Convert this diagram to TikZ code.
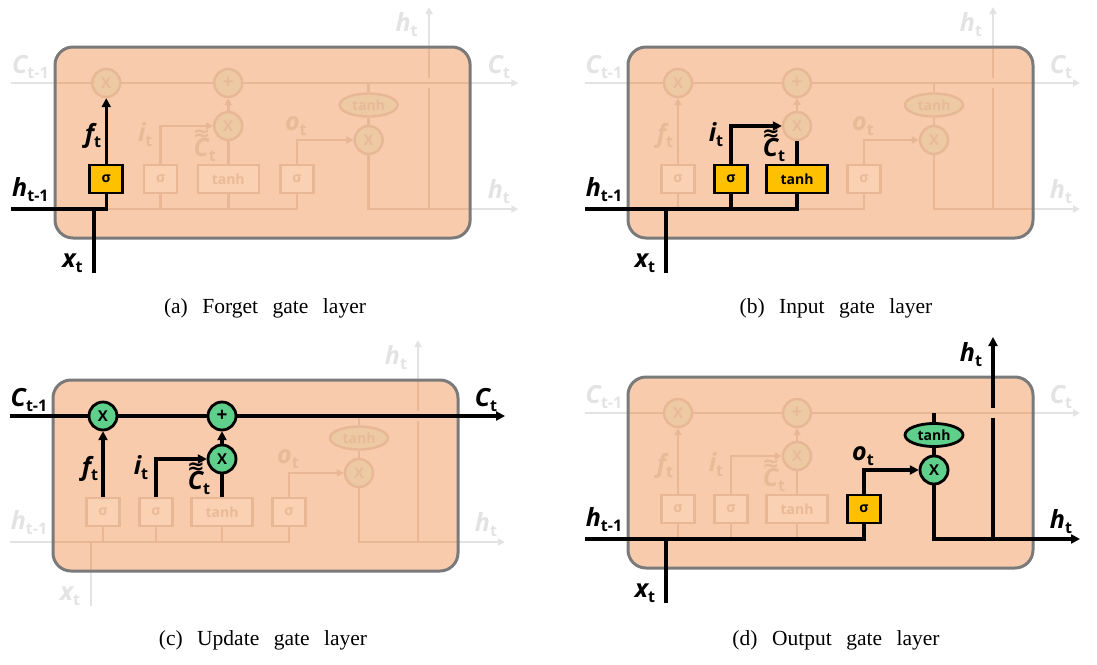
\documentclass[tikz,border=0pt]{standalone}
\usepackage{fontspec}
\setmainfont{Liberation Serif}
\newfontfamily\lblfont{Open Sans}
\newfontfamily\tildefont{DejaVu Sans}
\newfontfamily\capfont[WordSpace=2.7]{Liberation Serif}
\usetikzlibrary{arrows.meta,shapes.geometric}

\definecolor{cellfill}{HTML}{F8CBAD}
\definecolor{cellrim}{HTML}{7A7A7A}
\definecolor{gatefill}{HTML}{FFC000}
\definecolor{opfill}{HTML}{5FCF8C}
% muted tones for the parts of the cell that are not in focus
\definecolor{inline}{HTML}{E8B795}
\definecolor{incirc}{HTML}{EDC9A4}
\definecolor{ingate}{HTML}{FAD1B3}
\definecolor{intext}{HTML}{E8BA98}
\definecolor{outline}{HTML}{E3E3E3}

\newcommand\bigsym{\lblfont\bfseries\itshape\fontsize{25}{27}\selectfont}
\newcommand\subsym{\lblfont\bfseries\fontsize{16}{18}\selectfont}
\newcommand\lstmvar[2]{{\bigsym #1}{\subsym\raisebox{-5pt}{#2}}}
\newcommand\wavy{\tildefont\bfseries\fontsize{21}{21}\selectfont ≈}

\newcommand\insidetones{\colorlet{fadeline}{inline}\colorlet{fadecirc}{incirc}\colorlet{fadegate}{ingate}\colorlet{fadetext}{intext}}
\newcommand\outsidetones{\colorlet{fadeline}{outline}\colorlet{fadecirc}{outline}\colorlet{fadegate}{outline}\colorlet{fadetext}{outline}}

\tikzset{
  x=1pt, y=-1pt,
  fl/.style={draw=fadeline, line width=2.6pt},
  fla/.style={fl, -{Triangle[length=7pt,width=7pt]}},
  bl/.style={draw=black, line width=3.2pt},
  bla/.style={bl, -{Triangle[length=9pt,width=9pt]}},
  opnode/.style={circle, minimum size=28pt, inner sep=0pt, font=\lblfont\bfseries\fontsize{15}{15}\selectfont},
  fop/.style={opnode, draw=fadeline, line width=2.4pt, fill=fadecirc, text=fadetext},
  bop/.style={opnode, draw=black, line width=2.8pt, fill=opfill, text=black},
  thnode/.style={ellipse, minimum width=58pt, minimum height=23pt, inner sep=0pt, font=\lblfont\bfseries\fontsize{14}{14}\selectfont},
  fth/.style={thnode, draw=fadeline, line width=2.4pt, fill=fadecirc, text=fadetext},
  bth/.style={thnode, draw=black, line width=2.8pt, fill=opfill, text=black},
  gatenode/.style={rectangle, minimum height=28pt, inner sep=0pt, font=\lblfont\bfseries\fontsize{14}{14}\selectfont},
  fgate/.style={gatenode, draw=fadeline, line width=2.4pt, fill=fadegate, text=fadetext},
  bgate/.style={gatenode, draw=black, line width=2.8pt, fill=gatefill, text=black},
  flabel/.style={text=fadetext, inner sep=0pt},
  blabel/.style={text=black, inner sep=0pt},
  cellbox/.style={draw=cellrim, line width=3pt, fill=cellfill, rounded corners=18pt},
  caption/.style={font=\capfont\fontsize{21.5}{24}\selectfont, inner sep=0pt},
}

% the whole LSTM cell in muted colours; #1 is the panel prefix
\newcommand\lstmfaded[1]{%
  \node[fop] (#1-xf) at (50,36) {X};
  \node[fop, font=\lblfont\bfseries\fontsize{19}{19}\selectfont] (#1-plus) at (169,36) {+};
  \node[fop] (#1-xi) at (169,79) {X};
  \node[fth] (#1-th) at (306,58) {tanh};
  \node[fop] (#1-xo) at (306,93) {X};
  \node[fgate, minimum width=33pt] (#1-sf) at (50,132) {σ};
  \node[fgate, minimum width=33pt] (#1-si) at (103,132) {σ};
  \node[fgate, minimum width=61pt] (#1-tb) at (169,132) {tanh};
  \node[fgate, minimum width=33pt] (#1-so) at (236,132) {σ};
  \coordinate (#1-cin) at (-43,36);
  \coordinate (#1-cout) at (452,36);
  \coordinate (#1-tj) at (306,36);
  \coordinate (#1-hin) at (-43,162);
  \coordinate (#1-jx) at (38,162);
  \coordinate (#1-xin) at (38,226);
  \coordinate (#1-jf) at (50,162);
  \coordinate (#1-ji) at (103,162);
  \coordinate (#1-jt) at (169,162);
  \coordinate (#1-jo) at (236,162);
  \coordinate (#1-ib) at (103,79);
  \coordinate (#1-ob) at (236,93);
  \coordinate (#1-oc) at (306,162);
  \coordinate (#1-hj) at (365,162);
  \coordinate (#1-hout) at (452,162);
  \coordinate (#1-gb) at (365,41);
  \coordinate (#1-gt) at (365,31);
  \coordinate (#1-htop) at (365,-40);
  \draw[fla] (#1-cin) -- (#1-xf) -- (#1-plus) -- (#1-cout);
  \draw[fl] (#1-hin) -- (#1-jo) -- (#1-so);
  \draw[fl] (#1-jf) -- (#1-sf);
  \draw[fl] (#1-ji) -- (#1-si);
  \draw[fl] (#1-jt) -- (#1-tb);
  \draw[fl] (#1-xin) -- (#1-jx);
  \draw[fla] (#1-sf) -- (#1-xf);
  \draw[fla] (#1-xi) -- (#1-plus);
  \draw[fl] (#1-tb) -- (#1-xi);
  \draw[fla] (#1-si) -- (#1-ib) -- (#1-xi);
  \draw[fla] (#1-so) -- (#1-ob) -- (#1-xo);
  \draw[fl] (#1-tj) -- (#1-th);
  \draw[fl] (#1-th) -- (#1-xo);
  \draw[fla] (#1-xo) -- (#1-oc) -- (#1-hout);
  \draw[fl] (#1-hj) -- (#1-gb);
  \draw[fla] (#1-gt) -- (#1-htop);
  \node[flabel] (#1-lc0) at (-24,20) {\lstmvar{C}{t-1}};
  \node[flabel] (#1-lc1) at (433,20) {\lstmvar{C}{t}};
  \node[flabel] (#1-lh0) at (-24,143) {\lstmvar{h}{t-1}};
  \node[flabel] (#1-lh1) at (433,145) {\lstmvar{h}{t}};
  \node[flabel] (#1-lht) at (343,-22) {\lstmvar{h}{t}};
  \node[flabel] (#1-lx) at (17,216) {\lstmvar{x}{t}};
  \node[flabel] (#1-lf) at (37,89) {\lstmvar{f}{t}};
  \node[flabel] (#1-li) at (88,88) {\lstmvar{i}{t}};
  \node[flabel] (#1-lct) at (146,103) {\lstmvar{C}{t}};
  \node[flabel] (#1-lcw) at (143,88) {\wavy};
  \node[flabel] (#1-lo) at (235,79) {\lstmvar{o}{t}};
}

% cell body, muted contents (clipped inside / outside the body), then the rim
\newcommand\lstmpanel[1]{%
  \path[cellbox, draw=none] (0,0) rectangle (405,191);
  \begin{scope}[rounded corners=18pt]
    \clip (0,0) rectangle (405,191);
    \begin{scope}[sharp corners]
      \insidetones\lstmfaded{#1}
    \end{scope}
  \end{scope}
  \begin{scope}[rounded corners=18pt, even odd rule]
    \clip (-90,-90) rectangle (520,260) (0,0) rectangle (405,191);
    \begin{scope}[sharp corners, nonzero rule]
      \outsidetones\lstmfaded{#1}
    \end{scope}
  \end{scope}
  \draw[cellbox, fill=none] (0,0) rectangle (405,191);
}

\begin{document}
\begin{tikzpicture}
\useasboundingbox (0,0) rectangle (1097,664);

% (a) forget gate
\begin{scope}[shift={(55,47)}, x=1.025pt]
  \lstmpanel{a}
  \draw[bl] (a-hin) -- (a-jf) -- (a-sf);
  \draw[bl] (a-xin) -- (a-jx);
  \node[bgate, minimum width=33pt] (a-sf-on) at (a-sf) {σ};
  \draw[bla] (a-sf) -- (a-xf);
  \node[blabel] (a-lh0-on) at (a-lh0) {\lstmvar{h}{t-1}};
  \node[blabel] (a-lx-on) at (a-lx) {\lstmvar{x}{t}};
  \node[blabel] (a-lf-on) at (a-lf) {\lstmvar{f}{t}};
\end{scope}

% (b) input gate
\begin{scope}[shift={(628,47)}]
  \lstmpanel{b}
  \draw[bl] (b-hin) -- (b-jt) -- (b-tb);
  \draw[bl] (b-ji) -- (b-si);
  \draw[bl] (b-xin) -- (b-jx);
  \node[bgate, minimum width=33pt] (b-si-on) at (b-si) {σ};
  \node[bgate, minimum width=61pt] (b-tb-on) at (b-tb) {tanh};
  \draw[bla] (b-si) -- (b-ib) -- (b-xi);
  \draw[bl] (b-tb) -- (b-xi);
  \node[blabel] (b-lh0-on) at (b-lh0) {\lstmvar{h}{t-1}};
  \node[blabel] (b-lx-on) at (b-lx) {\lstmvar{x}{t}};
  \node[blabel] (b-li-on) at (b-li) {\lstmvar{i}{t}};
  \node[blabel] (b-lct-on) at (b-lct) {\lstmvar{C}{t}};
  \node[blabel] (b-lcw-on) at (b-lcw) {\wavy};
\end{scope}

% (c) cell state update
\begin{scope}[shift={(53,380)}]
  \lstmpanel{c}
  \node[bop] (c-xf-on) at (c-xf) {X};
  \node[bop, font=\lblfont\bfseries\fontsize{19}{19}\selectfont] (c-plus-on) at (c-plus) {+};
  \node[bop] (c-xi-on) at (c-xi) {X};
  \draw[bla] (c-cin) -- (c-xf) -- (c-plus) -- (c-cout);
  \draw[bla] (c-sf) -- (c-xf);
  \draw[bla] (c-si) -- (c-ib) -- (c-xi);
  \draw[bl] (c-tb) -- (c-xi);
  \draw[bla] (c-xi) -- (c-plus);
  \node[blabel] (c-lc0-on) at (c-lc0) {\lstmvar{C}{t-1}};
  \node[blabel] (c-lc1-on) at (c-lc1) {\lstmvar{C}{t}};
  \node[blabel] (c-lf-on) at (c-lf) {\lstmvar{f}{t}};
  \node[blabel] (c-li-on) at (c-li) {\lstmvar{i}{t}};
  \node[blabel] (c-lct-on) at (c-lct) {\lstmvar{C}{t}};
  \node[blabel] (c-lcw-on) at (c-lcw) {\wavy};
\end{scope}

% (d) output gate
\begin{scope}[shift={(628,377)}]
  \lstmpanel{d}
  \draw[bl] (d-hin) -- (d-jo) -- (d-so);
  \draw[bl] (d-xin) -- (d-jx);
  \node[bgate, minimum width=33pt] (d-so-on) at (d-so) {σ};
  \node[bth] (d-th-on) at (d-th) {tanh};
  \node[bop] (d-xo-on) at (d-xo) {X};
  \draw[bla] (d-so) -- (d-ob) -- (d-xo);
  \draw[bl] (d-tj) -- (d-th);
  \draw[bl] (d-th) -- (d-xo);
  \draw[bla] (d-xo) -- (d-oc) -- (d-hout);
  \draw[bl] (d-hj) -- (d-gb);
  \draw[bla] (d-gt) -- (d-htop);
  \node[blabel] (d-lh0-on) at (d-lh0) {\lstmvar{h}{t-1}};
  \node[blabel] (d-lx-on) at (d-lx) {\lstmvar{x}{t}};
  \node[blabel] (d-lo-on) at (d-lo) {\lstmvar{o}{t}};
  \node[blabel] (d-lht-on) at (d-lht) {\lstmvar{h}{t}};
  \node[blabel] (d-lh1-on) at (d-lh1) {\lstmvar{h}{t}};
\end{scope}

\node[caption] (cap-a) at (265,308) {(a) Forget gate layer};
\node[caption] (cap-b) at (836,308) {(b) Input gate layer};
\node[caption] (cap-c) at (263,640) {(c) Update gate layer};
\node[caption] (cap-d) at (836,640) {(d) Output gate layer};
\end{tikzpicture}
\end{document}
